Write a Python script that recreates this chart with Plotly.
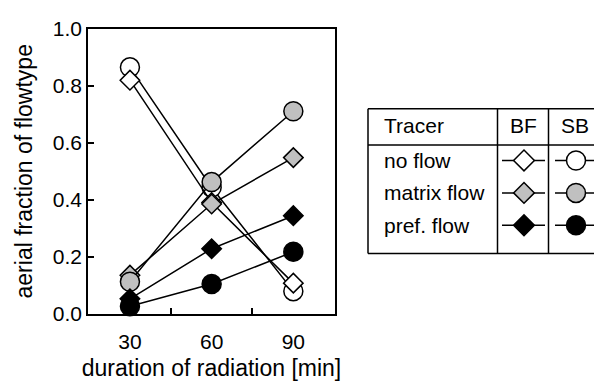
import plotly.graph_objects as go

# ---- data ----
duration = [30, 60, 90]
bf_no_flow = [0.82, 0.39, 0.107]
bf_matrix_flow = [0.135, 0.385, 0.548]
bf_pref_flow = [0.052, 0.228, 0.344]
sb_no_flow = [0.865, 0.443, 0.079]
sb_matrix_flow = [0.112, 0.462, 0.711]
sb_pref_flow = [0.026, 0.104, 0.217]

legend_rows = ["no flow", "matrix flow", "pref. flow"]
legend_cols = ["Tracer", "BF", "SB"]

W, H = 594, 381
FONT = "Liberation Sans, Arial, sans-serif"
GREY = "#c0c0c0"

fig = go.Figure()

series = [
    (sb_no_flow, "circle", "white", "SB no flow"),
    (bf_no_flow, "diamond", "white", "BF no flow"),
    (bf_matrix_flow, "diamond", GREY, "BF matrix flow"),
    (sb_matrix_flow, "circle", GREY, "SB matrix flow"),
    (bf_pref_flow, "diamond", "black", "BF pref. flow"),
    (sb_pref_flow, "circle", "black", "SB pref. flow"),
]
for vals, sym, col, name in series:
    fig.add_trace(go.Scatter(
        x=duration, y=vals, mode="lines+markers", name=name,
        line=dict(color="black", width=1.5),
        marker=dict(symbol=sym, color=col, size=19 if sym == "circle" else 15,
                    line=dict(color="black", width=1.5)),
        cliponaxis=False, showlegend=False, xaxis="x", yaxis="y"))

# ---- table legend (pixel-coordinate helper axes) ----
row_y = [158, 192.5, 227]
bf_x, sb_x = 524, 576
for i, row in enumerate(legend_rows):
    y = row_y[i]
    fig.add_trace(go.Scatter(x=[502, 545], y=[y, y], mode="lines",
                             line=dict(color="black", width=1.5),
                             showlegend=False, xaxis="x2", yaxis="y2", hoverinfo="skip"))
    fig.add_trace(go.Scatter(x=[555, 600], y=[y, y], mode="lines",
                             line=dict(color="black", width=1.5),
                             showlegend=False, xaxis="x2", yaxis="y2", hoverinfo="skip"))
for i, (vals, sym, col, name) in enumerate(series):
    rowi = {"no flow": 0, "matrix flow": 1, "pref. flow": 2}[name.split(" ", 1)[1]]
    xx = bf_x if sym == "diamond" else sb_x
    fig.add_trace(go.Scatter(
        x=[xx], y=[row_y[rowi]], mode="markers",
        marker=dict(symbol=sym, color=col, size=19 if sym == "circle" else 16,
                    line=dict(color="black", width=1.5)),
        showlegend=False, xaxis="x2", yaxis="y2", hoverinfo="skip", cliponaxis=False))

shapes = []
lw = dict(color="black", width=1.5)
for y0 in [103, 141.5, 257]:
    shapes.append(dict(type="line", xref="x2", yref="y2", x0=368, x1=600, y0=y0, y1=y0, line=lw))
for x0 in [368, 497.5, 548.5]:
    shapes.append(dict(type="line", xref="x2", yref="y2", x0=x0, x1=x0, y0=103, y1=257, line=lw))

annotations = [
    dict(x=382, y=121, text=legend_cols[0], xanchor="left"),
    dict(x=523, y=121, text=legend_cols[1], xanchor="center"),
    dict(x=575, y=121, text=legend_cols[2], xanchor="center"),
]
for i, row in enumerate(legend_rows):
    annotations.append(dict(x=382, y=row_y[i], text=row, xanchor="left"))
for a in annotations:
    a.update(xref="x2", yref="y2", yanchor="middle", showarrow=False,
             font=dict(family=FONT, size=21, color="black"))

fig.update_layout(
    width=W, height=H, autosize=False,
    margin=dict(l=0, r=0, t=0, b=0),
    paper_bgcolor="white", plot_bgcolor="rgba(0,0,0,0)",
    font=dict(family=FONT, size=21, color="black"),
    shapes=shapes, annotations=annotations,
    xaxis=dict(domain=[88 / W, 335 / W], range=[14.6, 105.3],
               tickvals=[30, 60, 90], ticks="", showgrid=False, zeroline=False,
               showline=True, linecolor="black", linewidth=1.5, mirror=True,
               minor=dict(tickvals=[45, 75], ticks="inside", ticklen=6,
                          tickcolor="black", tickwidth=1.5, showgrid=False),
               tickfont=dict(size=21), ticklabelstandoff=8,
               title=dict(text="duration of radiation [min]", font=dict(size=23), standoff=8),
               anchor="y"),
    yaxis=dict(domain=[(H - 321) / H, (H - 18) / H], range=[0, 1],
               tickvals=[0, 0.2, 0.4, 0.6, 0.8, 1.0], tickformat=".1f",
               ticks="inside", ticklen=6, tickcolor="black", tickwidth=1.5,
               showgrid=False, zeroline=False,
               showline=True, linecolor="black", linewidth=1.5, mirror=True,
               tickfont=dict(size=21),
               title=dict(text="aerial fraction of flowtype", font=dict(size=23), standoff=14),
               anchor="x"),
    xaxis2=dict(domain=[0, 1], range=[0, W], visible=False, anchor="y2", fixedrange=True),
    yaxis2=dict(domain=[0, 1], range=[H, 0], visible=False, anchor="x2", fixedrange=True),
)

fig.write_html("out.html")
